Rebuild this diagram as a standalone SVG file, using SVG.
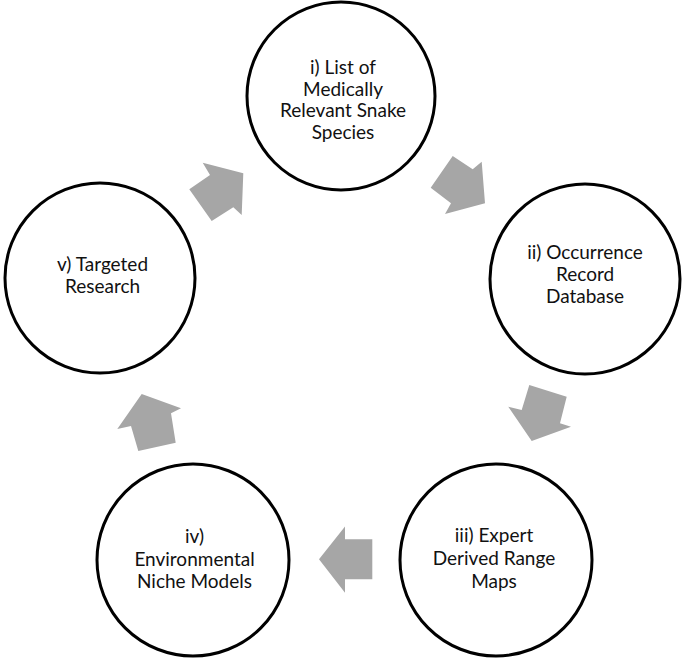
<svg xmlns="http://www.w3.org/2000/svg" width="688" height="662" viewBox="0 0 688 662">
<style>
.node circle{fill:#fff;stroke:#000;stroke-width:3}
.node text{font-family:Lato,"Open Sans","Liberation Sans",sans-serif;font-size:19px;fill:#111;text-anchor:middle}
.arrow{fill:#a6a6a6;stroke:none}
</style>
<rect width="688" height="662" fill="#fff"/>
<g id="connectors">
<polygon class="arrow" points="452.7,156 430.7,187.7 451,203.3 445,214 485,203.3 481.7,161.7 472.7,169.3"/>
<polygon class="arrow" points="529.3,385 566.7,396.7 560,423.3 571,426.7 531.7,441 508.3,406.7 521.7,410"/>
<polygon class="arrow" points="372.3,539.3 345,539.3 345,526.6 319,559.3 345,592.7 345,579.3 372.3,579.3"/>
<polygon class="arrow" points="141.7,394 181,408.3 171,413.3 175.7,442.7 138.3,451 131,426 117.3,429"/>
<polygon class="arrow" points="243.3,173.3 241.7,215 233.3,207.3 211.7,221 189.3,189.3 210,175 202.7,162.7"/>
</g>
<g id="node-i" class="node">
<circle cx="341" cy="96" r="94"/>
<text x="343" y="74">i) List of</text>
<text x="343" y="95.5">Medically</text>
<text x="343" y="117">Relevant Snake</text>
<text x="343" y="138.5">Species</text>
</g>
<g id="node-ii" class="node">
<circle cx="585" cy="279" r="95"/>
<text x="585" y="259">ii) Occurrence</text>
<text x="585" y="281">Record</text>
<text x="585" y="303">Database</text>
</g>
<g id="node-iii" class="node">
<circle cx="496" cy="560" r="96"/>
<text x="494" y="542">iii) Expert</text>
<text x="494" y="565">Derived Range</text>
<text x="494" y="588">Maps</text>
</g>
<g id="node-iv" class="node">
<circle cx="193" cy="560" r="96"/>
<text x="194.5" y="543">iv)</text>
<text x="194.5" y="566">Environmental</text>
<text x="194.5" y="588">Niche Models</text>
</g>
<g id="node-v" class="node">
<circle cx="100" cy="278" r="95"/>
<text x="102.5" y="271">v) Targeted</text>
<text x="102.5" y="293">Research</text>
</g>
</svg>
